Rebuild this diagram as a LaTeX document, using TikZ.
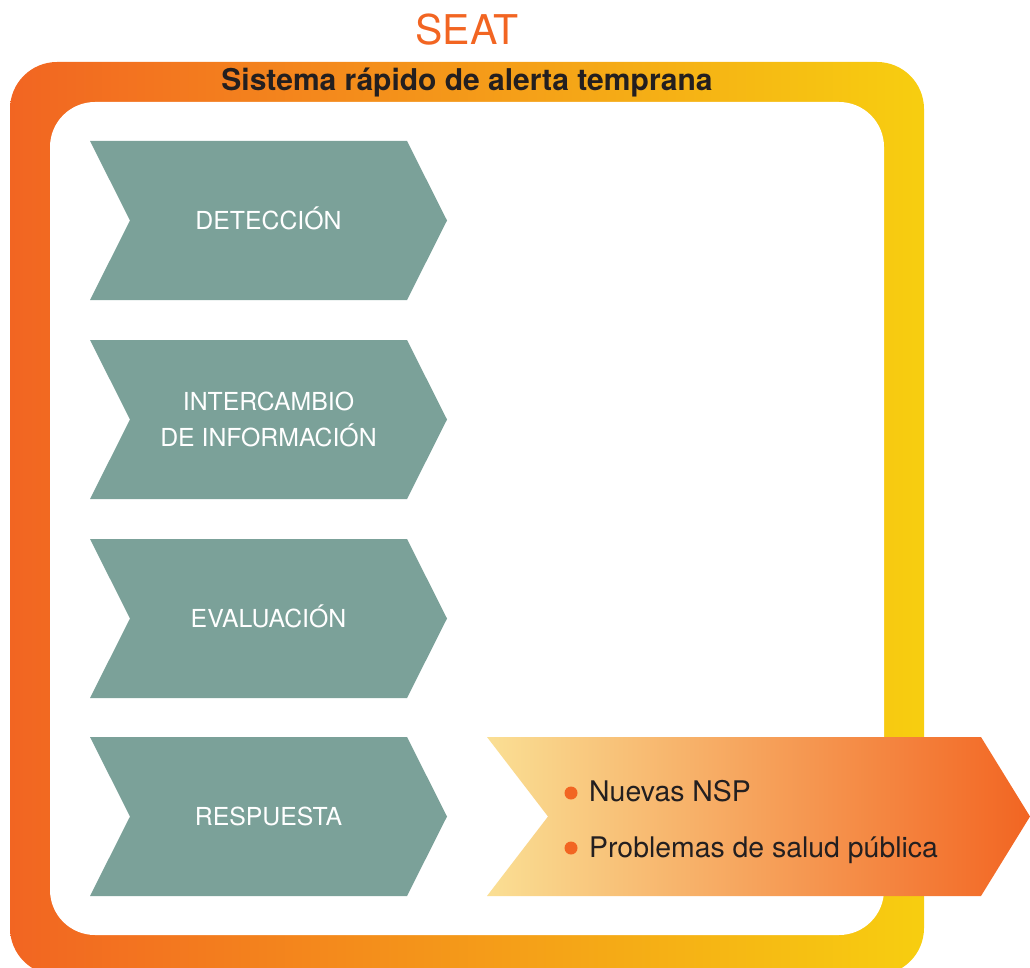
\documentclass[tikz,border=0pt]{standalone}
\usepackage{fontspec}
\setmainfont{TeX Gyre Heros}
\usepackage{xcolor}
\definecolor{naranja}{HTML}{F26522}
\definecolor{amarillo}{HTML}{F7CE10}
\definecolor{crema}{HTML}{FADF94}
\definecolor{verdegris}{HTML}{7BA199}
\definecolor{tinta}{HTML}{231F20}
% chevron de una etapa, #1 = borde superior
\newcommand{\etapa}[1]{\fill[verdegris] (90,#1) -- ++(317,0) -- ++(40,79.5) -- ++(-40,79.5)
    -- ++(-317,0) -- ++(40,-79.5) -- cycle;}

\begin{document}
\begin{tikzpicture}[x=1pt, y=-1pt,
      lbl/.style={text=white, font=\fontsize{24.8}{36}\selectfont, align=center, inner sep=0pt},
      item/.style={text=tinta, font=\fontsize{28.4}{34}\selectfont, anchor=base west, inner sep=0pt},
      punto/.style={circle, fill=naranja, inner sep=0pt, minimum size=13pt}]
    \useasboundingbox (0,0) rectangle (1030,968);
    \clip (0,0) rectangle (1030,968);
    % marco del sistema
    \shade[left color=naranja, right color=amarillo, rounded corners=47pt] (10,62) rectangle (924,975);
    \fill[white, rounded corners=45pt] (50,102) rectangle (884,935);
    \node[text=naranja, font=\fontsize{41}{48}\selectfont, anchor=base] (seat) at (467,44.5) {SEAT};
    \node[text=tinta, font=\fontsize{30}{36}\selectfont\bfseries, anchor=base] (srat) at (467,91)
      {Sistema rápido de alerta temprana};
    % etapas
    \etapa{141} \etapa{340} \etapa{539} \etapa{737}
    \node[lbl, anchor=base] (det) at (268.5,229.4) {DETECCIÓN};
    \node[lbl] (inter) at (268.5,419.5) {INTERCAMBIO\\DE INFORMACIÓN};
    \node[lbl, anchor=base] (eval) at (268.5,627.4) {EVALUACIÓN};
    \node[lbl, anchor=base] (resp) at (268.5,825.4) {RESPUESTA};
    % salida
    \shade[left color=crema, right color=naranja] (487,737) -- (981,737) -- (1030,816.5) -- (981,896)
      -- (487,896) -- (548,816.5) -- cycle;
    \node[punto] (p1) at (571,793) {};
    \node[punto] (p2) at (571,848) {};
    \node[item] (nsp) at (589,801.5) {Nuevas NSP};
    \node[item] (salud) at (589,857) {Problemas de salud pública};
  \end{tikzpicture}
\end{document}
